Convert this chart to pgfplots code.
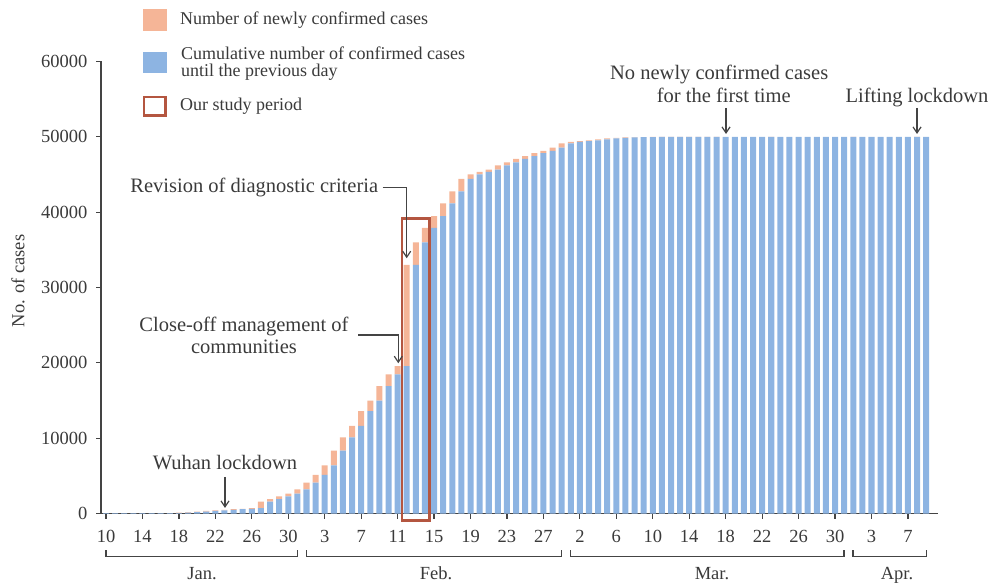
\documentclass[border=0pt]{standalone}
\usepackage{pgfplots}
\pgfplotsset{compat=1.18}
\usepackage{pgfplotstable}
\usetikzlibrary{arrows.meta}
\usepackage{fontspec}
\setmainfont{Liberation Serif}
\definecolor{newc}{RGB}{245,181,151}
\definecolor{cumc}{RGB}{141,180,226}
\definecolor{rectc}{RGB}{180,86,64}
\definecolor{txt}{RGB}{58,58,58}
\definecolor{axc}{RGB}{68,68,68}
\newcommand{\annf}{\fontsize{20.5bp}{22bp}\selectfont}
\newcommand{\legf}{\fontsize{18bp}{19bp}\selectfont}
\newcommand{\tickf}{\fontsize{18.5bp}{20bp}\selectfont}

% idx: 0 = Jan 10, 2020 ... 90 = Apr 9, 2020
% prev = cumulative confirmed until previous day, new = newly confirmed that day
\pgfplotstableread{
idx prev new
0 41 0
1 41 0
2 41 0
3 41 0
4 41 0
5 41 0
6 41 4
7 45 17
8 62 59
9 121 77
10 198 60
11 258 105
12 363 62
13 425 70
14 495 77
15 572 46
16 618 80
17 698 892
18 1590 315
19 1905 356
20 2261 378
21 2639 576
22 3215 894
23 4109 1033
24 5142 1242
25 6384 1967
26 8351 1766
27 10117 1501
28 11618 1985
29 13603 1379
30 14982 1920
31 16902 1552
32 18454 1104
33 19558 13436
34 32994 2997
35 35991 1923
36 37914 1548
37 39462 1690
38 41152 1600
39 42752 1660
40 44412 615
41 45027 319
42 45346 314
43 45660 541
44 46201 406
45 46607 464
46 47071 370
47 47441 383
48 47824 313
49 48137 420
50 48557 565
51 49122 193
52 49315 111
53 49426 114
54 49540 131
55 49671 126
56 49797 74
57 49871 41
58 49912 36
59 49948 17
60 49965 13
61 49978 8
62 49986 5
63 49991 4
64 49995 4
65 49999 4
66 50003 1
67 50004 1
68 50005 0
69 50005 0
70 50005 0
71 50005 0
72 50005 0
73 50005 1
74 50006 0
75 50006 0
76 50006 0
77 50006 0
78 50006 0
79 50006 0
80 50006 0
81 50006 0
82 50006 1
83 50007 0
84 50007 0
85 50007 0
86 50007 0
87 50007 0
88 50007 0
89 50007 1
90 50008 0
}\wuhan

\begin{document}
\begin{tikzpicture}
\begin{scope}[x=1bp,y=-1bp,shift={(-101bp,513.5bp)}]
\path[use as bounding box] (0,0) rectangle (991,585);
\end{scope}
\begin{axis}[
  at={(0,0)}, anchor=south west,
  scale only axis, width=837bp, height=452bp,
  xmin=-0.55, xmax=91.3, ymin=0, ymax=60000,
  ybar stacked, bar width=0.66,
  axis lines=left,
  axis line style={-, draw=axc, line width=1.4bp},
  x axis line style={-}, y axis line style={-},
  tick style={draw=axc, line width=1.2bp},
  tick align=outside, major tick length=5bp,
  xtick={0,4,...,88},
  xticklabels={10,14,18,22,26,30,3,7,11,15,19,23,27,2,6,10,14,18,22,26,30,3,7},
  ytick={0,10000,20000,30000,40000,50000,60000},
  scaled y ticks=false,
  /pgf/number format/assume math mode=true,
  yticklabel style={/pgf/number format/fixed, /pgf/number format/1000 sep={}, font=\tickf, text=txt, xshift=-5bp},
  xticklabel style={font=\tickf, text=txt, yshift=-8.5bp},
  clip=false,
]
\addplot[fill=cumc, draw=none] table[x=idx,y=prev]{\wuhan};
\addplot[fill=newc, draw=none] table[x=idx,y=new]{\wuhan};
\draw[rectc, line width=2.6bp] (axis cs:32.46,-950) rectangle (axis cs:35.49,39190);
\end{axis}
\begin{scope}[x=1bp,y=-1bp,shift={(-101bp,513.5bp)},
  every node/.style={text=txt, inner sep=0pt},
  arr/.style={draw=axc, line width=1.2bp, -{Straight Barb[length=6bp,width=8bp]}}]
% legend
\fill[newc] (142.7,9.3) rectangle (166.7,30.7);
\fill[cumc] (142.7,51.7) rectangle (166.7,73.3);
\draw[rectc, line width=2.6bp] (144,97) rectangle (165.4,115.4);
\node[anchor=base west, font=\legf] at (180,25) {Number of newly confirmed cases};
\node[anchor=base west, font=\legf] at (181,59.5) {Cumulative number of confirmed cases};
\node[anchor=base west, font=\legf] at (181,76.5) {until the previous day};
\node[anchor=base west, font=\legf] at (180,111) {Our study period};
% y label
\node[rotate=90, font=\tickf] at (18,281) {No. of cases};
% annotations
\node[anchor=base, font=\annf] at (225,469.3) {Wuhan lockdown};
\draw[arr] (225,477) -- (225,508);
\node[anchor=base, font=\annf] at (244,331.7) {Close-off management of};
\node[anchor=base, font=\annf] at (244,353.3) {communities};
\draw[arr] (358.3,335) -- (398.3,335) -- (398.3,363.3);
\node[anchor=base east, font=\annf] at (378.3,192.7) {Revision of diagnostic criteria};
\draw[arr] (382.7,187.3) -- (406.7,187.3) -- (406.7,258.3);
\node[anchor=base, font=\annf] at (719.2,80) {No newly confirmed cases};
\node[anchor=base, font=\annf] at (723.8,102.3) {for the first time};
\draw[arr] (726,108) -- (726,134);
\node[anchor=base, font=\annf] at (917,102.3) {Lifting lockdown};
\draw[arr] (917,108) -- (917,134);
% month brackets
\draw[axc, line width=1.3bp] (106,550.5) -- (106,556.5) -- (297.3,556.5) -- (297.3,550.5);
\draw[axc, line width=1.3bp] (306.7,550.5) -- (306.7,556.5) -- (561.8,556.5) -- (561.8,550.5);
\draw[axc, line width=1.3bp] (570.7,550.5) -- (570.7,556.5) -- (844,556.5) -- (844,550.5);
\draw[axc, line width=1.3bp] (853,550.5) -- (853,556.5) -- (926.3,556.5) -- (926.3,550.5);
\node[anchor=base, font=\tickf] at (202,580) {Jan.};
\node[anchor=base, font=\tickf] at (436,580) {Feb.};
\node[anchor=base, font=\tickf] at (712,580) {Mar.};
\node[anchor=base, font=\tickf] at (897,580) {Apr.};
\end{scope}
\end{tikzpicture}
\end{document}
